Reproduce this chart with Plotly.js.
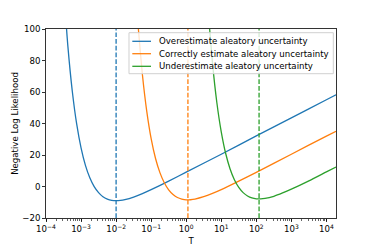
<!DOCTYPE html>
<html>
<head>
<meta charset="utf-8">
<script src="https://cdn.plot.ly/plotly-3.0.1.min.js"></script>
<style>html,body{margin:0;padding:0;background:#fff;}#chart{width:374px;height:249px;}</style>
</head>
<body>
<div id="chart"></div>
<script>
// Series names
const seriesNames = [
  "Overestimate aleatory uncertainty",
  "Correctly estimate aleatory uncertainty",
  "Underestimate aleatory uncertainty"
];
const seriesColors = ["#1f77b4", "#ff7f0e", "#2ca02c"];

// Blue curve
const blueT = [3.162e-4, 4.217e-4, 5.623e-4, 7.499e-4, 1e-3, 1.334e-3, 1.778e-3, 2.371e-3, 3.162e-3, 4.217e-3, 5.623e-3, 7.499e-3, 1e-2, 1.334e-2, 1.778e-2, 3.162e-2, 5.623e-2, 0.1, 0.3162, 1, 10, 100, 1000, 10000, 18800];
const blueNLL = [126.8, 88.8, 60.5, 39.7, 24.5, 13.4, 5.5, -0.1, -3.9, -6.5, -8.0, -8.8, -9.0, -8.8, -8.3, -6.7, -4.5, -2.0, 3.4, 9.1, 20.5, 32.1, 43.6, 55.1, 58.2];

// Orange curve
const orangeT = [3.162e-2, 4.217e-2, 5.623e-2, 7.499e-2, 0.1, 0.1334, 0.1778, 0.2371, 0.3162, 0.4217, 0.5623, 0.7499, 1, 1.334, 1.778, 3.162, 5.623, 10, 31.62, 100, 1000, 10000, 18800];
const orangeNLL = [145.8, 102.9, 71.1, 47.7, 30.4, 17.8, 8.8, 2.4, -2.1, -5.1, -7.0, -8.0, -8.5, -8.4, -8.0, -6.5, -4.4, -2.0, 3.4, 9.0, 20.5, 32.0, 35.1];

// Green curve
const greenT = [3.162, 4.217, 5.623, 7.499, 10, 13.34, 17.78, 23.71, 31.62, 42.17, 56.23, 74.99, 100, 133.4, 177.8, 316.2, 562.3, 1000, 3162, 10000, 18800];
const greenNLL = [158.6, 112.6, 78.5, 53.2, 34.7, 21.1, 11.3, 4.3, -0.6, -3.9, -6.0, -7.25, -7.8, -7.9, -7.6, -6.2, -4.1, -1.7, 3.6, 9.3, 12.4];

// Minimum positions (dashed vertical lines)
const minT = [0.01, 1.12, 120];

// Axis ticks
const xTickVals = [1e-4, 1e-3, 1e-2, 1e-1, 1, 10, 100, 1000, 10000];
const xTickText = ["10<sup>−4</sup>", "10<sup>−3</sup>", "10<sup>−2</sup>", "10<sup>−1</sup>", "10<sup>0</sup>", "10<sup>1</sup>", "10<sup>2</sup>", "10<sup>3</sup>", "10<sup>4</sup>"];
const yTickVals = [-20, 0, 20, 40, 60, 80, 100];

const xs = [blueT, orangeT, greenT];
const ys = [blueNLL, orangeNLL, greenNLL];

const font = {family: "DejaVu Sans", size: 8.6, color: "#000"};

const traces = xs.map((x, i) => ({
  x: x, y: ys[i], type: "scatter", mode: "lines", name: seriesNames[i],
  line: {color: seriesColors[i], width: 1.3, shape: "spline", smoothing: 0.6},
  showlegend: false
}));

const shapes = minT.map((t, i) => ({
  type: "line", xref: "x", yref: "y domain", x0: t, x1: t, y0: 0, y1: 1,
  line: {color: seriesColors[i], width: 1.3, dash: "4.7px,2px"}, layer: "above"
}));

// Manual legend (matplotlib-style) in paper coordinates
const legBox = {x0: 0.2862, x1: 0.9907, y0: 0.7635, y1: 0.9804};
const legRows = [0.9349, 0.8693, 0.8026];
const legLineX = [0.2976, 0.3621];
const legTextX = 0.3838;
shapes.push({
  type: "rect", xref: "paper", yref: "paper",
  x0: legBox.x0, x1: legBox.x1, y0: legBox.y0, y1: legBox.y1,
  fillcolor: "rgba(255,255,255,0.8)", line: {color: "#d0d0d0", width: 1}, layer: "above"
});
const annotations = [];
seriesNames.forEach((name, i) => {
  shapes.push({
    type: "line", xref: "paper", yref: "paper",
    x0: legLineX[0], x1: legLineX[1], y0: legRows[i], y1: legRows[i],
    line: {color: seriesColors[i], width: 1.3}, layer: "above"
  });
  annotations.push({
    xref: "paper", yref: "paper", x: legTextX, y: legRows[i],
    xanchor: "left", yanchor: "middle", text: name, showarrow: false,
    font: font
  });
});

const layout = {
  width: 374, height: 249,
  margin: {l: 46, r: 38, t: 29, b: 31, pad: 0},
  paper_bgcolor: "#fff", plot_bgcolor: "#fff",
  font: font,
  showlegend: false,
  xaxis: {
    type: "log", range: [-4, 4.274],
    tickvals: xTickVals, ticktext: xTickText,
    ticks: "outside", ticklen: 3, tickwidth: 0.8, tickcolor: "#000",
    showline: true, linecolor: "#000", linewidth: 0.8, mirror: true,
    showgrid: false, zeroline: false,
    minor: {ticks: "outside", ticklen: 1.8, tickwidth: 0.6, tickcolor: "#000", dtick: "D1", showgrid: false},
    title: {text: "T", font: font, standoff: 4},
    tickfont: font
  },
  yaxis: {
    range: [-20, 100],
    tickvals: yTickVals,
    ticks: "outside", ticklen: 3, tickwidth: 0.8, tickcolor: "#000",
    showline: true, linecolor: "#000", linewidth: 0.8, mirror: true,
    showgrid: false, zeroline: false,
    title: {text: "Negative Log Likelihood", font: font, standoff: 2},
    tickfont: font
  },
  shapes: shapes,
  annotations: annotations
};

Plotly.newPlot("chart", traces, layout, {staticPlot: true, displayModeBar: false});
</script>
</body>
</html>
